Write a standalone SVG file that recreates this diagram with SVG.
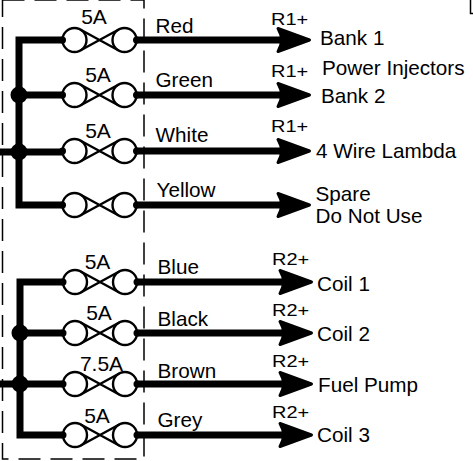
<svg xmlns="http://www.w3.org/2000/svg" xmlns:xlink="http://www.w3.org/1999/xlink" width="473" height="461" viewBox="0 0 473 461">
<style>
text{font-family:"Liberation Sans",Arial,sans-serif;font-size:20.7px;fill:#000}
.amp{text-anchor:middle;font-size:21px}
.rl{font-size:20px}
.wire{fill:none;stroke:#000;stroke-width:7;stroke-linecap:butt;stroke-linejoin:miter}
.bus{fill:none;stroke:#000;stroke-width:7;stroke-linejoin:miter}
.thin{fill:none;stroke:#000;stroke-width:2.4}
.box{fill:none;stroke:#000;stroke-width:1.5;stroke-dasharray:22 10}
</style>
<defs>
<marker id="arr" markerUnits="userSpaceOnUse" viewBox="-40 -16 44 32" markerWidth="44" markerHeight="32" refX="-21" refY="0" orient="auto">
<path d="M-33,-11.5 L-1.5,0 L-33,11.5 Q-26,0 -33,-11.5 Z" fill="#000" stroke="#000" stroke-width="3" stroke-linejoin="round"/>
</marker>
<g id="fuse">
<circle cx="-25" cy="0" r="12" class="thin"/>
<circle cx="25" cy="0" r="12" class="thin"/>
<path d="M-19.24,-10.53 L19.24,10.53 M-19.24,10.53 L19.24,-10.53" class="thin"/>
<circle cx="-37" cy="0" r="3.5" fill="#000"/>
<circle cx="37" cy="0" r="3.5" fill="#000"/>
</g>
</defs>
<rect width="473" height="461" fill="#fff"/>
<rect id="fuse-box" class="box" x="2.5" y="0" width="141.5" height="459"/>
<path id="corner-mark" d="M470.5,0 V13.5 H473" fill="none" stroke="#000" stroke-width="1.5"/>

<g id="connectors">
<path class="bus" d="M62.5,40 H19 V205 H62.5"/>
<path class="wire" d="M0,152 H62.5 M19,95 H62.5"/>
<circle cx="19" cy="95" r="8.5" fill="#000"/>
<circle cx="19" cy="152" r="8.5" fill="#000"/>
<path class="bus" d="M62.5,282 H20 V435 H62.5"/>
<path class="wire" d="M0,384 H62.5 M20,333 H62.5"/>
<circle cx="20" cy="333" r="8.5" fill="#000"/>
<circle cx="20" cy="384" r="8.5" fill="#000"/>
<path class="wire" d="M136.5,40 H290" marker-end="url(#arr)"/>
<path class="wire" d="M136.5,95 H290" marker-end="url(#arr)"/>
<path class="wire" d="M136.5,151 H290" marker-end="url(#arr)"/>
<path class="wire" d="M136.5,205 H290" marker-end="url(#arr)"/>
<path class="wire" d="M136.5,282 H292" marker-end="url(#arr)"/>
<path class="wire" d="M136.5,333 H292" marker-end="url(#arr)"/>
<path class="wire" d="M136.5,384 H292" marker-end="url(#arr)"/>
<path class="wire" d="M136.5,435 H292" marker-end="url(#arr)"/>
</g>

<g id="fuse-red"><use xlink:href="#fuse" x="99.5" y="40"/><text class="amp" x="94" y="24">5A</text><text x="155.5" y="33">Red</text></g>
<g id="fuse-green"><use xlink:href="#fuse" x="99.5" y="95"/><text class="amp" x="98" y="82">5A</text><text x="155.5" y="87">Green</text></g>
<g id="fuse-white"><use xlink:href="#fuse" x="99.5" y="151"/><text class="amp" x="98" y="138">5A</text><text x="155.5" y="142">White</text></g>
<g id="fuse-yellow"><use xlink:href="#fuse" x="99.5" y="205"/><text x="156.5" y="197">Yellow</text></g>
<g id="fuse-blue"><use xlink:href="#fuse" x="100" y="282"/><text class="amp" x="97.5" y="269">5A</text><text x="157.5" y="274">Blue</text></g>
<g id="fuse-black"><use xlink:href="#fuse" x="100" y="333"/><text class="amp" x="99" y="320">5A</text><text x="157.5" y="326">Black</text></g>
<g id="fuse-brown"><use xlink:href="#fuse" x="100" y="384"/><text class="amp" x="101.5" y="371">7.5A</text><text x="157.5" y="378">Brown</text></g>
<g id="fuse-grey"><use xlink:href="#fuse" x="100" y="435"/><text class="amp" x="97" y="423">5A</text><text x="157.5" y="427">Grey</text></g>

<g id="dest-bank1"><text class="rl" transform="translate(271,25) scale(1,0.82)">R1+</text><text x="320" y="45">Bank 1</text></g>
<g id="dest-injectors"><text x="322" y="75">Power Injectors</text></g>
<g id="dest-bank2"><text class="rl" transform="translate(271,77) scale(1,0.82)">R1+</text><text x="321" y="103">Bank 2</text></g>
<g id="dest-lambda"><text class="rl" transform="translate(271,132) scale(1,0.82)">R1+</text><text x="316" y="158">4 Wire Lambda</text></g>
<g id="dest-spare"><text x="315.5" y="201">Spare</text><text x="315.5" y="223">Do Not Use</text></g>
<g id="dest-coil1"><text class="rl" transform="translate(272,265) scale(1,0.82)">R2+</text><text x="317" y="291">Coil 1</text></g>
<g id="dest-coil2"><text class="rl" transform="translate(272,316) scale(1,0.82)">R2+</text><text x="317" y="341">Coil 2</text></g>
<g id="dest-fuelpump"><text class="rl" transform="translate(272,367) scale(1,0.82)">R2+</text><text x="318" y="392">Fuel Pump</text></g>
<g id="dest-coil3"><text class="rl" transform="translate(272,418) scale(1,0.82)">R2+</text><text x="317" y="442">Coil 3</text></g>
</svg>
